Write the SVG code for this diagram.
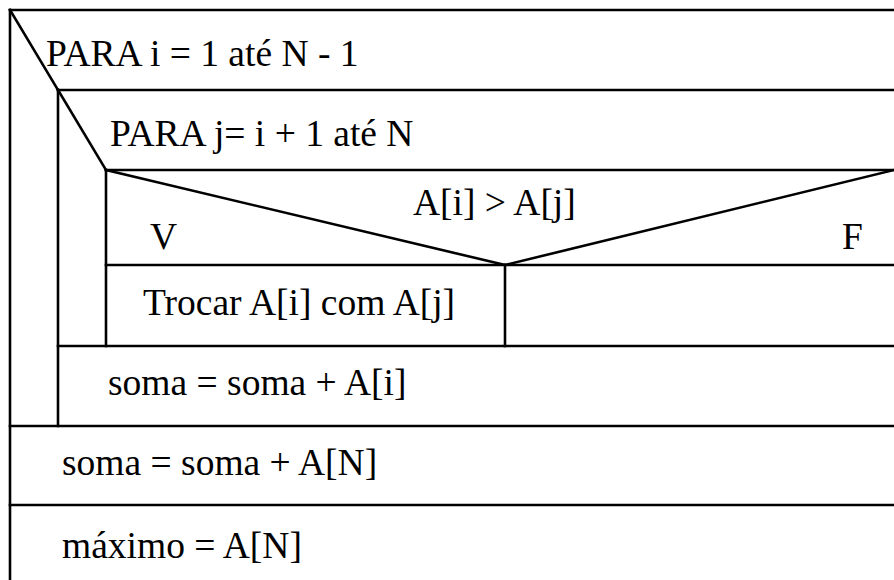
<svg xmlns="http://www.w3.org/2000/svg" width="894" height="580" viewBox="0 0 894 580">
  <style>
    .ln { stroke: #000; stroke-width: 2.6; fill: none; stroke-linecap: square; }
    .tx { font-family: "Liberation Serif", "Times New Roman", serif; font-size: 37.5px; fill: #000; }
  </style>
  <rect x="0" y="0" width="894" height="580" fill="#fff"/>

  <!-- outer loop: PARA i -->
  <g id="loop-i">
    <line class="ln" x1="10" y1="10" x2="900" y2="10"/>
    <line class="ln" x1="10" y1="10" x2="10" y2="590"/>
    <line class="ln" x1="10" y1="10" x2="58" y2="90"/>
    <text class="tx" x="46" y="66">PARA i = 1 até N - 1</text>
  </g>

  <!-- inner loop: PARA j -->
  <g id="loop-j">
    <line class="ln" x1="58" y1="90" x2="900" y2="90"/>
    <line class="ln" x1="58" y1="90" x2="58" y2="426"/>
    <line class="ln" x1="58" y1="90" x2="106" y2="170"/>
    <text class="tx" x="110" y="146">PARA j= i + 1 até N</text>
  </g>

  <!-- decision A[i] > A[j] -->
  <g id="decision">
    <line class="ln" x1="106" y1="170" x2="900" y2="170"/>
    <line class="ln" x1="106" y1="170" x2="106" y2="346"/>
    <line class="ln" x1="106" y1="170" x2="505" y2="265"/>
    <line class="ln" x1="505" y1="265" x2="894" y2="170"/>
    <line class="ln" x1="106" y1="265" x2="900" y2="265"/>
    <text class="tx" x="413" y="215">A[i] &gt; A[j]</text>
    <text class="tx" x="150" y="249">V</text>
    <text class="tx" x="842" y="249">F</text>
  </g>

  <!-- true branch -->
  <g id="swap">
    <line class="ln" x1="505" y1="265" x2="505" y2="346"/>
    <text class="tx" x="143" y="315">Trocar A[i] com A[j]</text>
  </g>

  <!-- false branch (empty) -->
  <g id="empty-branch">
    <line class="ln" x1="58" y1="346" x2="900" y2="346"/>
  </g>

  <g id="soma-i">
    <line class="ln" x1="10" y1="426" x2="900" y2="426"/>
    <text class="tx" x="108" y="395">soma = soma + A[i]</text>
  </g>

  <g id="soma-n">
    <line class="ln" x1="10" y1="505" x2="900" y2="505"/>
    <text class="tx" x="62" y="475">soma = soma + A[N]</text>
  </g>

  <g id="maximo">
    <text class="tx" x="62" y="558">máximo = A[N]</text>
  </g>
</svg>
